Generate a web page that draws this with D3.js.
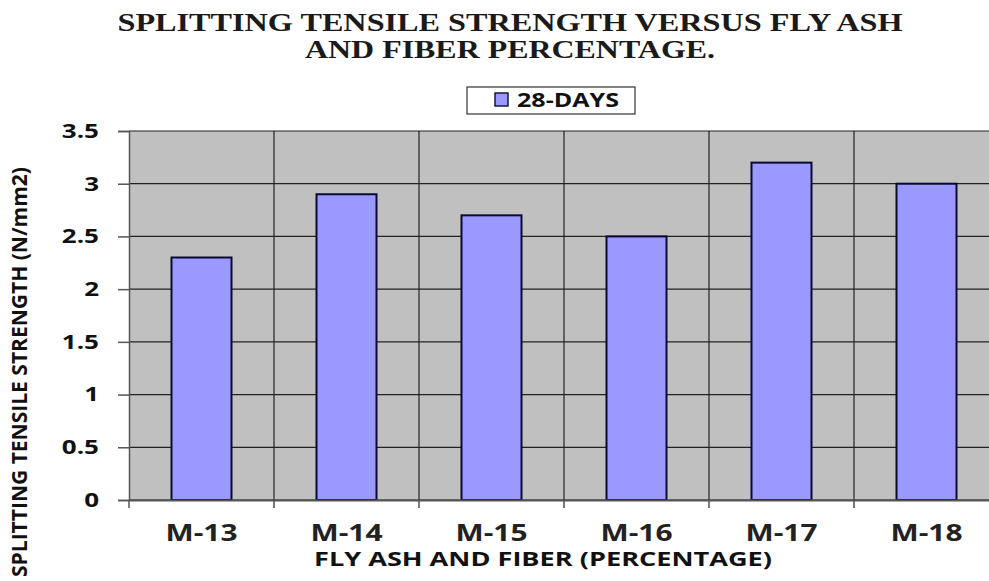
<!DOCTYPE html>
<html>
<head>
<meta charset="utf-8">
<script src="https://cdn.jsdelivr.net/npm/d3@7"></script>
<style>
  body { margin: 0; background: #fff; }
  svg { display: block; }
</style>
</head>
<body>
<div id="chart"></div>
<script>
// data
var categories = ["M-13", "M-14", "M-15", "M-16", "M-17", "M-18"];
var days28 = [2.3, 2.9, 2.7, 2.5, 3.2, 3.0];
var yTicks = [0, 0.5, 1, 1.5, 2, 2.5, 3, 3.5];
var titleLines = ["SPLITTING TENSILE  STRENGTH  VERSUS FLY ASH", "AND FIBER PERCENTAGE."];

(function() {
  var W = 989, H = 581;
  // plot area (right edge runs past the window, like the original)
  var pLeft = 129, pRight = 999, pTop = 131, pBottom = 500;

  var svg = d3.select("#chart").append("svg")
    .attr("width", W)
    .attr("height", H);

  var x = d3.scaleBand().domain(categories).range([pLeft, pRight]).paddingInner(0).paddingOuter(0);
  var y = d3.scaleLinear().domain([0, 3.5]).range([pBottom, pTop]);

  // plot background
  svg.append("rect")
    .attr("x", pLeft).attr("y", pTop)
    .attr("width", pRight - pLeft).attr("height", pBottom - pTop)
    .attr("fill", "#c0c0c0");

  // horizontal grid
  svg.selectAll(".hgrid").data(yTicks).enter().append("line")
    .attr("x1", pLeft).attr("x2", pRight)
    .attr("y1", function(d) { return y(d); })
    .attr("y2", function(d) { return y(d); })
    .attr("stroke", "#222").attr("stroke-width", 1.2);

  // vertical grid at category boundaries
  svg.selectAll(".vgrid").data(categories.slice(1)).enter().append("line")
    .attr("x1", function(d) { return x(d); })
    .attr("x2", function(d) { return x(d); })
    .attr("y1", pTop).attr("y2", pBottom + 8)
    .attr("stroke", "#222").attr("stroke-width", 1.2);

  // bars
  var bw = 60;
  svg.selectAll(".bar").data(days28).enter().append("rect")
    .attr("x", function(d, i) { return x(categories[i]) + x.bandwidth() / 2 - bw / 2; })
    .attr("y", function(d) { return y(d); })
    .attr("width", bw)
    .attr("height", function(d) { return pBottom - y(d); })
    .attr("fill", "#9999ff")
    .attr("stroke", "#0a0a30").attr("stroke-width", 2);

  // y axis
  var yAxis = svg.append("g")
    .attr("transform", "translate(" + pLeft + ",0)")
    .call(d3.axisLeft(y).tickValues(yTicks).tickSize(11).tickPadding(18).tickFormat(d3.format("")));
  yAxis.select(".domain").attr("stroke", "#555").attr("stroke-width", 1.5);
  yAxis.selectAll(".tick line").attr("stroke", "#555").attr("stroke-width", 1.5);
  // the original labels look stretched sideways, so widen them a bit
  yAxis.selectAll("text")
    .attr("x", 0)
    .attr("transform", "translate(-30,0) scale(1.3,1)")
    .attr("font-family", "'Open Sans', sans-serif")
    .attr("font-weight", "bold").attr("font-size", 20).attr("fill", "#111");

  // x axis
  var xAxis = svg.append("g")
    .attr("transform", "translate(0," + pBottom + ")")
    .call(d3.axisBottom(x).tickSize(0).tickPadding(25));
  xAxis.select(".domain").attr("stroke", "#555").attr("stroke-width", 2);
  xAxis.selectAll("text")
    .attr("transform", "scale(1.3,1)")
    .attr("font-family", "'Open Sans', sans-serif")
    .attr("font-weight", "bold").attr("font-size", 23).attr("fill", "#222");
  svg.append("line")
    .attr("x1", pLeft).attr("x2", pLeft).attr("y1", pBottom).attr("y2", pBottom + 8)
    .attr("stroke", "#555").attr("stroke-width", 1.5);

  // title
  svg.selectAll(".title").data(titleLines).enter().append("text")
    .attr("x", 510)
    .attr("y", function(d, i) { return 31 + i * 27; })
    .attr("text-anchor", "middle")
    .attr("font-family", "'Liberation Serif', 'Times New Roman', serif")
    .attr("font-weight", "bold").attr("font-size", 26).attr("fill", "#1a1a1a")
    .attr("textLength", function(d, i) { return i === 0 ? 785 : 410; })
    .attr("lengthAdjust", "spacingAndGlyphs")
    .text(function(d) { return d; });

  // legend
  var lg = svg.append("g");
  lg.append("rect")
    .attr("x", 467).attr("y", 87).attr("width", 168).attr("height", 27)
    .attr("fill", "#fff").attr("stroke", "#333").attr("stroke-width", 1.2);
  lg.append("rect")
    .attr("x", 495).attr("y", 93).attr("width", 13).attr("height", 13)
    .attr("fill", "#9999ff").attr("stroke", "#0a0a30").attr("stroke-width", 1.4);
  lg.append("text")
    .attr("x", 517).attr("y", 107)
    .attr("font-family", "'Open Sans', sans-serif")
    .attr("font-weight", "bold").attr("font-size", 20).attr("fill", "#111")
    .attr("textLength", 102).attr("lengthAdjust", "spacingAndGlyphs")
    .text("28-DAYS");

  // axis titles
  svg.append("text")
    .attr("x", 543).attr("y", 566)
    .attr("text-anchor", "middle")
    .attr("font-family", "'Open Sans', sans-serif")
    .attr("font-weight", "bold").attr("font-size", 19).attr("fill", "#111")
    .attr("textLength", 458).attr("lengthAdjust", "spacingAndGlyphs")
    .text("FLY ASH AND FIBER (PERCENTAGE)");

  svg.append("text")
    .attr("transform", "translate(27,372) rotate(-90)")
    .attr("text-anchor", "middle")
    .attr("font-family", "'Open Sans', sans-serif")
    .attr("font-weight", "bold").attr("font-size", 22).attr("fill", "#111")
    .attr("textLength", 410).attr("lengthAdjust", "spacingAndGlyphs")
    .text("SPLITTING TENSILE STRENGTH (N/mm2)");
})();
</script>
</body>
</html>
